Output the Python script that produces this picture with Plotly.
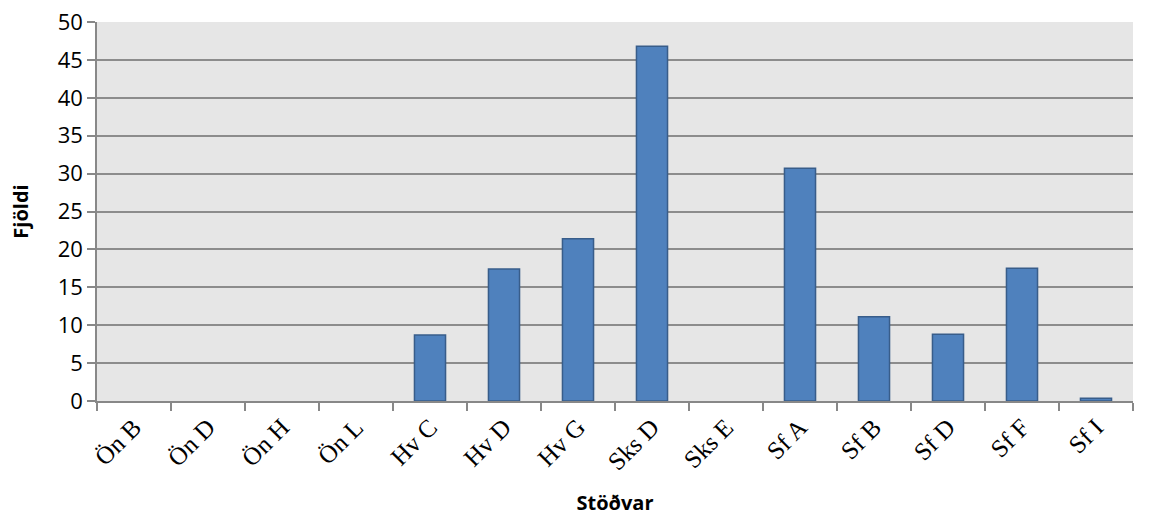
import plotly.graph_objects as go

categories = ["Ön B", "Ön D", "Ön H", "Ön L", "Hv C", "Hv D", "Hv G", "Sks D", "Sks E",
              "Sf A", "Sf B", "Sf D", "Sf F", "Sf I"]
values = [0, 0, 0, 0, 8.7, 17.4, 21.4, 46.8, 0, 30.7, 11.1, 8.8, 17.5, 0.35]
y_ticks = [0, 5, 10, 15, 20, 25, 30, 35, 40, 45, 50]

# no outline on empty bars
line_widths = [1.5 if v > 0 else 0 for v in values]

fig = go.Figure(go.Bar(
    x=categories, y=values,
    marker=dict(color="#4f81bd", line=dict(color="#385d8a", width=line_widths)),
    width=0.42,
))

fig.update_layout(
    width=1154, height=522,
    margin=dict(l=97, r=21, t=22, b=121),
    paper_bgcolor="white", plot_bgcolor="#e6e6e6",
    showlegend=False,
)
fig.update_xaxes(
    type="category", tickangle=-45, tickson="boundaries", automargin=False,
    ticks="outside", ticklen=8, tickcolor="#888888", tickwidth=1.5,
    showline=True, linecolor="#888888", linewidth=1.5,
    showgrid=False, ticklabeloverflow="allow",
    tickfont=dict(family="Liberation Serif", size=25, color="black"),
    title=dict(text="<b>Stöðvar</b>", font=dict(family="Open Sans", size=20, color="black"), standoff=22),
)
fig.update_yaxes(
    range=[0, 50], tickvals=y_ticks, automargin=False,
    ticks="outside", ticklen=8, tickcolor="#888888", tickwidth=1.5,
    showline=True, linecolor="#888888", linewidth=1.5,
    showgrid=True, gridcolor="#8c8c8c", gridwidth=1.5,
    zeroline=False, ticklabeloverflow="allow",
    tickfont=dict(family="Open Sans", size=22, color="black"),
    title=dict(text="<b>Fjöldi</b>", font=dict(family="Open Sans", size=20, color="black"), standoff=24),
)

fig.write_html("out.html", config={"displayModeBar": False},
               post_script="document.body.style.margin='0';")
